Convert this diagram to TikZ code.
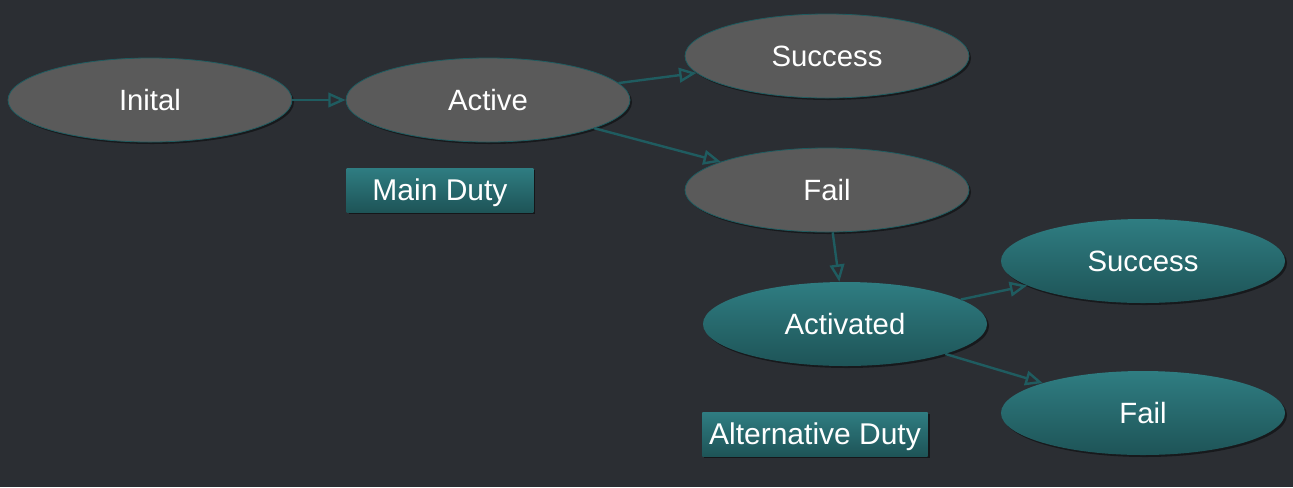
\documentclass[tikz,border=0pt]{standalone}
\usepackage{fontspec}
\setmainfont{Liberation Sans}
\usetikzlibrary{shapes.geometric,arrows.meta,shadows}

\definecolor{bgdark}{HTML}{2B2E33}
\definecolor{stategray}{HTML}{5A5A5A}
\definecolor{tealtop}{HTML}{2F7D82}
\definecolor{tealbot}{HTML}{1E5457}
\definecolor{tealline}{HTML}{1F5C60}

\begin{document}
\begin{tikzpicture}[x=0.75pt, y=-0.75pt,
    state/.style={ellipse, minimum width=213pt, minimum height=63pt,
                  inner sep=0pt, text=white, font=\fontsize{22}{26}\selectfont,
                  drop shadow={shadow xshift=1.5pt, shadow yshift=-1.5pt,
                               opacity=0.45, fill=black}},
    mainstate/.style={state, fill=stategray, draw=tealline, line width=0.6pt},
    altstate/.style={state, top color=tealtop, bottom color=tealbot},
    dutybox/.style={rectangle, top color=tealtop, bottom color=tealbot,
                    text=white, inner sep=0pt, minimum height=33pt,
                    text height=16pt, text depth=0pt,
                    font=\fontsize{22.5}{27}\selectfont,
                    drop shadow={shadow xshift=1.5pt, shadow yshift=-1.5pt,
                                 opacity=0.5, fill=black}},
    flow/.style={draw=tealline, line width=1.8pt,
                 -{Triangle[open, length=13pt, width=11pt]}}]
  \useasboundingbox[fill=bgdark] (0,0) rectangle (1293,487);

  % main duty
  \node[mainstate] (inital) at (150,100) {Inital};
  \node[mainstate] (active) at (488,100) {Active};
  \node[mainstate] (success) at (827,56) {Success};
  \node[mainstate] (fail) at (827,190) {Fail};
  \node[dutybox, minimum width=140pt] (maindu) at (440,190) {Main Duty};

  % alternative duty
  \node[altstate] (activated) at (845,324) {Activated};
  \node[altstate] (altsuccess) at (1143,261) {Success};
  \node[altstate] (altfail) at (1143,413) {Fail};
  \node[dutybox, minimum width=169pt] (altdu) at (815,434) {Alternative Duty};

  \draw[flow] (inital) -- (active);
  \draw[flow] (active) -- (success);
  \draw[flow] (active) -- (fail);
  \draw[flow] (fail) -- (activated);
  \draw[flow] (activated) -- (altsuccess);
  \draw[flow] (activated) -- (altfail);
\end{tikzpicture}
\end{document}
